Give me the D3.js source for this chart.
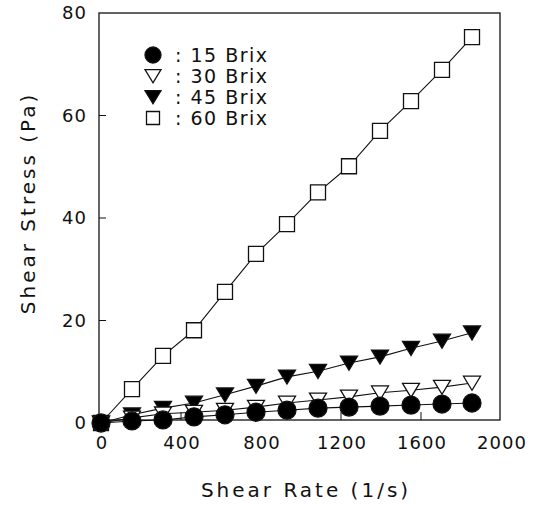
<!DOCTYPE html>
<html>
<head>
<meta charset="utf-8">
<script src="https://cdn.jsdelivr.net/npm/d3@7"></script>
<style>
  body { margin: 0; background: #fff; }
  text { font-family: "DejaVu Sans", sans-serif; fill: #111; }
</style>
</head>
<body>
<div class="chart"></div>
<script>
// shear rate (1/s)
const shearRate = [0, 155, 310, 465, 620, 775, 930, 1085, 1240, 1395, 1550, 1705, 1855];

// shear stress (Pa) by sugar content
const brix15 = [0, 0.4, 0.6, 1.2, 1.6, 2.1, 2.5, 2.9, 3.1, 3.3, 3.5, 3.7, 3.9];
const brix30 = [0, 1.0, 1.8, 2.1, 2.5, 3.1, 3.9, 4.5, 5.1, 5.9, 6.4, 7.0, 7.8];
const brix45 = [0, 1.6, 2.9, 3.9, 5.5, 7.2, 9.0, 10.1, 11.7, 12.9, 14.6, 16.0, 17.6];
const brix60 = [0, 6.6, 13.1, 18.1, 25.6, 33.0, 38.8, 45.0, 50.1, 57.0, 62.8, 68.9, 75.3];

const legendLabels = [": 15 Brix", ": 30 Brix", ": 45 Brix", ": 60 Brix"];
const xTicks = [0, 400, 800, 1200, 1600, 2000];
const yTicks = [0, 20, 40, 60, 80];

const width = 543;
const height = 506;

const x = d3.scaleLinear().domain([0, 2000]).range([101, 501]);
const y = d3.scaleLinear().domain([0, 80]).range([423, 13]);

const svg = d3.select(".chart").append("svg")
    .attr("width", width)
    .attr("height", height);

// marker shapes
const shapes = {
    circle: r => d3.symbol(d3.symbolCircle, Math.PI * r * r)(),
    square: r => d3.symbol(d3.symbolSquare, (2 * r) * (2 * r))(),
    tri: r => `M${-r},${-r * 0.8}L${r},${-r * 0.8}L0,${r * 0.85}Z`
};

const series = [
    { values: brix60, shape: "square", size: 7.5, fill: "#fff" },
    { values: brix45, shape: "tri", size: 8.5, fill: "#000" },
    { values: brix30, shape: "tri", size: 8.5, fill: "#fff" },
    { values: brix15, shape: "circle", size: 9, fill: "#000" }
];

// frame
svg.append("rect")
    .attr("x", x(0) - 2)
    .attr("y", y(80))
    .attr("width", x(2000) - x(0) + 1)
    .attr("height", y(0) - y(80) - 3)
    .attr("fill", "none")
    .attr("stroke", "#111")
    .attr("stroke-width", 1.3);

// ticks, pointing inward
svg.append("g")
    .selectAll("line")
    .data(yTicks.slice(1, -1))
    .enter()
    .append("line")
    .attr("x1", x(0) - 2).attr("x2", x(0) + 5)
    .attr("y1", d => y(d)).attr("y2", d => y(d))
    .attr("stroke", "#111");

svg.append("g")
    .selectAll("line")
    .data(xTicks.slice(1, -1))
    .enter()
    .append("line")
    .attr("x1", d => x(d)).attr("x2", d => x(d))
    .attr("y1", y(0) - 3).attr("y2", y(0) - 11)
    .attr("stroke", "#111");

// tick labels
svg.append("g")
    .selectAll("text")
    .data(yTicks)
    .enter()
    .append("text")
    .attr("x", 87)
    .attr("y", d => y(d) + 1)
    .attr("text-anchor", "end")
    .attr("dominant-baseline", "middle")
    .style("font-size", "18px")
    .style("letter-spacing", "1px")
    .text(d => d);

svg.append("g")
    .selectAll("text")
    .data(xTicks)
    .enter()
    .append("text")
    .attr("x", d => x(d) + 1)
    .attr("y", 449)
    .attr("text-anchor", "middle")
    .style("font-size", "18px")
    .style("letter-spacing", "1px")
    .text(d => d);

// axis titles
svg.append("text")
    .attr("x", 306)
    .attr("y", 497)
    .attr("text-anchor", "middle")
    .style("font-size", "20px")
    .style("letter-spacing", "3px")
    .text("Shear Rate (1/s)");

svg.append("text")
    .attr("transform", "translate(35,203) rotate(-90)")
    .attr("text-anchor", "middle")
    .style("font-size", "20px")
    .style("letter-spacing", "3px")
    .text("Shear Stress (Pa)");

// lines and markers
const line = d3.line()
    .x((d, i) => x(shearRate[i]))
    .y(d => y(d));

series.forEach(s => {
    svg.append("path")
        .datum(s.values)
        .attr("d", line)
        .attr("fill", "none")
        .attr("stroke", "#111")
        .attr("stroke-width", 1.1);
});

series.forEach(s => {
    svg.append("g")
        .selectAll("path")
        .data(s.values)
        .enter()
        .append("path")
        .attr("transform", (d, i) => `translate(${x(shearRate[i])},${y(d)})`)
        .attr("d", shapes[s.shape](s.size))
        .attr("fill", s.fill)
        .attr("stroke", "#111")
        .attr("stroke-width", 1.3);
});

// legend
const legendOrder = [series[3], series[2], series[1], series[0]];
const legend = svg.append("g");
legendOrder.forEach((s, i) => {
    const ly = 55 + i * 21;
    legend.append("path")
        .attr("transform", `translate(153,${ly})`)
        .attr("d", shapes[s.shape](s.shape === "square" ? 6.5 : 8))
        .attr("fill", s.fill)
        .attr("stroke", "#111")
        .attr("stroke-width", 1.3);
    legend.append("text")
        .attr("x", 175)
        .attr("y", ly + 1)
        .attr("dominant-baseline", "middle")
        .style("font-size", "19px")
        .style("letter-spacing", "1.5px")
        .text(legendLabels[i]);
});
</script>
</body>
</html>
